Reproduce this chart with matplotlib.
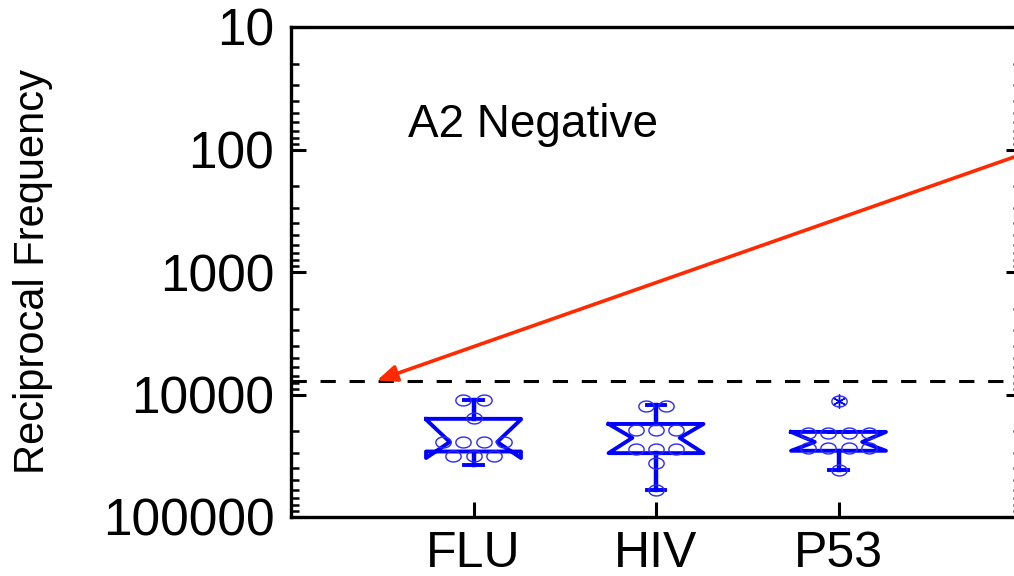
import numpy as np
import matplotlib
matplotlib.use('Agg')
import matplotlib.pyplot as plt
from matplotlib.path import Path
from matplotlib.ticker import FixedLocator, FixedFormatter, NullFormatter

plt.rcParams['font.family'] = ['Liberation Sans', 'DejaVu Sans']

groups = ['FLU', 'HIV', 'P53']
positions = [1, 2, 3]

# individual responses per antigen
flu_vals = [11000, 11000, 15500, 24400, 24400, 24400, 24400, 31500, 31500, 31500]
hiv_vals = [12300, 12300, 19500, 19500, 19500, 27900, 27900, 27900, 36300, 60300]
p53_vals = [11300, 20500, 20500, 20500, 20500, 27500, 27500, 27500, 27500, 41300]

# box summaries (reciprocal frequency)
whis_lo = [11000, 12200, 20200]
q1 = [15800, 17400, 20200]
med = [24400, 22600, 24400]
q3 = [29200, 30100, 28800]
whis_hi = [37600, 60300, 41300]
ci_lo = [16000, 17400, 20200]
ci_hi = [33000, 30100, 28800]
outliers = [[], [], [11300]]

cutoff = 7700
arrow_tip = (0.47, cutoff)
arrow_tail = (4.0, 110)

y_ticks = [10, 100, 1000, 10000, 100000]
y_ticklabels = ['10', '100', '1000', '10000', '100000']
y_minor = [m * 10 ** e for e in range(1, 5) for m in range(2, 10)]

blue = '#0000ff'
circ_blue = '#2a2aff'

fig = plt.figure(figsize=(10.14, 5.76), dpi=100)
ax = fig.add_axes([291/1014, 59/576, 730/1014, 490/576])

stats = []
for i, g in enumerate(groups):
    stats.append(dict(label=g, whislo=whis_lo[i], q1=q1[i], med=med[i], q3=q3[i],
                      whishi=whis_hi[i], cilo=ci_lo[i], cihi=ci_hi[i],
                      fliers=outliers[i]))

ax.bxp(stats, positions=positions, widths=0.52, shownotches=True, capwidths=0.1,
       boxprops=dict(color=blue, linewidth=2.8),
       whiskerprops=dict(color=blue, linewidth=3.2),
       capprops=dict(color=blue, linewidth=2.8),
       medianprops=dict(linestyle='none'),
       flierprops=dict(marker=(6, 2, 0), markeredgecolor=blue, markersize=10,
                       markeredgewidth=1))

# open ellipses for each sample, spread sideways when values coincide
t = np.linspace(0, 2 * np.pi, 60)
ellipse = Path(np.column_stack([1.4 * np.cos(t), np.sin(t)]), closed=True)
for pos, vals in zip(positions, [flu_vals, hiv_vals, p53_vals]):
    vals = np.array(vals)
    for v in np.unique(vals):
        k = int(np.sum(vals == v))
        offs = (np.arange(k) - (k - 1) / 2) * 0.11
        ax.plot(pos + offs, [v] * k, linestyle='none', marker=ellipse, ms=11,
                mfc='none', mec=circ_blue, mew=1)

ax.axhline(cutoff, color='black', linewidth=2.2, dashes=(5, 4.5))
ax.annotate('', xy=arrow_tip, xytext=arrow_tail,
            arrowprops=dict(arrowstyle='-|>,head_length=0.6,head_width=0.25',
                            color='#ff2a00', lw=2.6,
                            mutation_scale=20, shrinkA=0, shrinkB=0))

ax.set_yscale('log')
ax.set_ylim(100000, 10)
ax.set_xlim(0, 4)
ax.yaxis.set_major_locator(FixedLocator(y_ticks))
ax.yaxis.set_major_formatter(FixedFormatter(y_ticklabels))
ax.yaxis.set_minor_locator(FixedLocator(y_minor))
ax.yaxis.set_minor_formatter(NullFormatter())
ax.set_xticks(positions)
ax.set_xticklabels(groups)

ax.tick_params(axis='y', which='major', direction='in', length=11, width=2.2,
               labelsize=37, pad=12, right=True)
ax.tick_params(axis='y', which='minor', direction='in', length=6, width=1.8,
               right=True)
ax.tick_params(axis='x', which='major', direction='in', length=11, width=2.2,
               labelsize=36, pad=10, top=False)
for s in ax.spines.values():
    s.set_linewidth(2.4)

ax.set_ylabel('Reciprocal Frequency', fontsize=30, labelpad=36)
ax.text(0.16, 0.80, 'A2 Negative', transform=ax.transAxes, fontsize=33,
        va='center', ha='left')

fig.savefig('out.png', dpi=100)
